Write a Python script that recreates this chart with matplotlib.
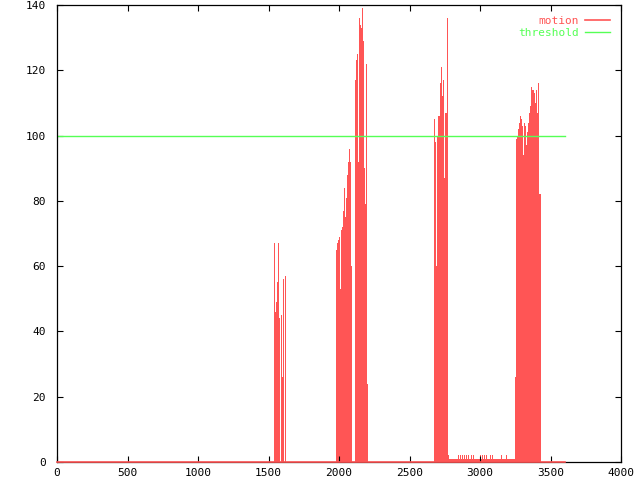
import numpy as np
import matplotlib
matplotlib.use("Agg")
import matplotlib.pyplot as plt

# frame spacing of one sample (one pixel column in the original)
step = 7.09
data_end = 3600
threshold = 100

# bursts of motion: start frame and the values that follow
burst1_start = 1539
burst1 = [67, 46, 49, 55, 67, 44, 0, 45, 26, 56, 0, 57]

burst2_start = 1979
burst2 = [65, 67, 68, 69, 53, 71, 72, 77, 84, 75, 81, 88, 92, 96, 92, 60,
          0, 0, 0,
          117, 123, 125, 92, 136, 134, 133, 139, 129, 90, 79, 122, 24]

burst3_start = 2674
burst3 = [105, 98, 60, 100, 106, 106, 116, 121, 112, 117, 87, 107, 107, 136]

flat_start = 2773
flat = [2, 1, 1, 1, 1, 1, 1, 1, 1, 1, 2, 1, 2, 1, 2, 1, 2, 1, 2, 1,
        2, 1, 1, 2, 1, 2, 1, 1, 1, 1, 1, 1, 2, 1, 2, 1, 2, 1, 2, 1,
        1, 1, 2, 1, 2, 1, 1, 1, 1, 1, 1, 1, 1, 2, 1, 1, 1, 1, 2, 1,
        1, 1, 1, 1, 1, 1, 1]

burst4_start = 3248
burst4 = [26, 99, 100, 102, 104, 106, 105, 103, 94, 104, 103, 97, 101, 104,
          107, 109, 115, 114, 114, 113, 110, 114, 107, 116, 82, 82]

segments = [(burst1_start, burst1), (burst2_start, burst2),
            (burst3_start, burst3), (flat_start, flat),
            (burst4_start, burst4)]

red = "#ff5555"
green = "#55ff55"

plt.rcParams["font.family"] = "DejaVu Sans Mono"
plt.rcParams["font.size"] = 8

fig = plt.figure(figsize=(6.4, 4.8), dpi=100)
ax = fig.add_axes([57 / 640, 18 / 480, 564 / 640, 457 / 480])

for start, vals in segments:
    x = start + step * np.arange(len(vals))
    ax.bar(x, vals, width=step, align="edge", color=red, linewidth=0,
           antialiased=False)

ax.plot([0, data_end], [0, 0], color=red, lw=1.2, label="motion",
        zorder=5, clip_on=False)
ax.plot([0, data_end], [threshold, threshold], color=green, lw=1, label="threshold")

ax.set_xlim(0, 4000)
ax.set_ylim(0, 140)
ax.set_xticks(np.arange(0, 4001, 500))
ax.set_yticks(np.arange(0, 141, 20))
ax.tick_params(direction="in", length=4, width=0.8, top=True, right=True,
               colors="black")
ax.tick_params(axis="y", pad=8)
ax.tick_params(axis="x", pad=4)
for s in ax.spines.values():
    s.set_linewidth(0.9)

leg = ax.legend(loc="upper right", frameon=False, markerfirst=False,
                handlelength=2.2, handletextpad=0.6, labelspacing=0.15,
                borderaxespad=0.6, fontsize=8)
for t, c in zip(leg.get_texts(), [red, green]):
    t.set_color(c)

fig.savefig("out.png", dpi=100)
